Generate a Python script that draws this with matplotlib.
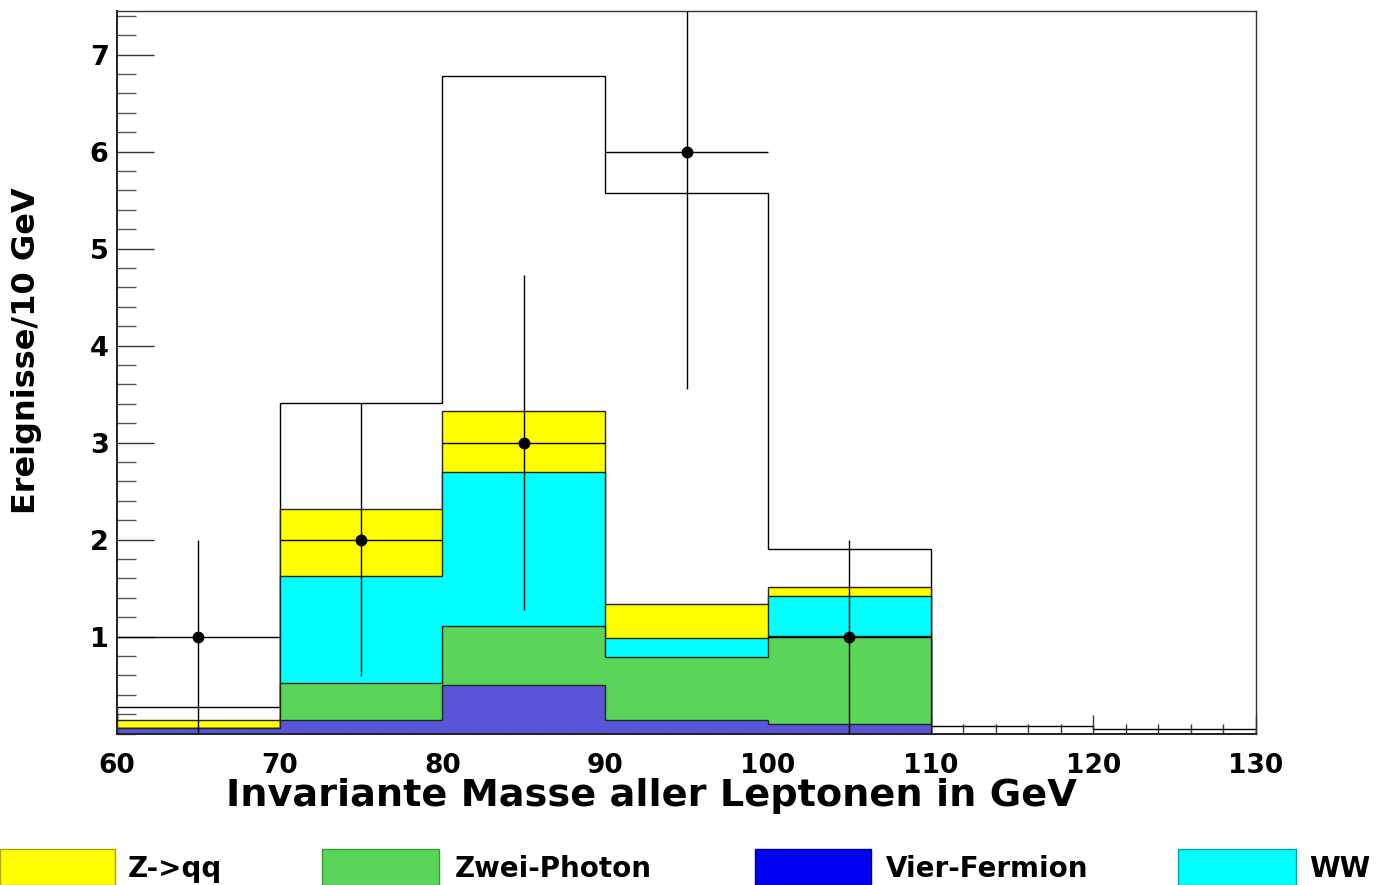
import numpy as np
import matplotlib
matplotlib.use("Agg")
import matplotlib.pyplot as plt
from matplotlib.patches import Rectangle
from matplotlib.ticker import MultipleLocator

plt.rcParams['font.family'] = ['DejaVu Sans']
plt.rcParams['font.weight'] = 'bold'

# bin edges in GeV
edges = [60, 70, 80, 90, 100, 110, 120, 130]

# background contributions per bin (stacked bottom -> top)
vier_fermion = [0.06, 0.14, 0.495, 0.137, 0.093, 0.0, 0.0]
zwei_photon = [0.0, 0.38, 0.61, 0.653, 0.91, 0.0, 0.0]
ww = [0.0, 1.10, 1.595, 0.197, 0.417, 0.0, 0.0]
z_qq = [0.08, 0.70, 0.63, 0.353, 0.09, 0.0, 0.0]

# total expectation (white outline histogram)
total = [0.27, 3.41, 6.78, 5.57, 1.90, 0.08, 0.05]

# data points
data_x = [65, 75, 85, 95, 105]
data_y = [1, 2, 3, 6, 1]
data_err = [1.0, 1.41, 1.73, 2.45, 1.0]

labels = ['Z->qq', 'Zwei-Photon', 'Vier-Fermion', 'WW']
plot_colors = {'Z->qq': '#ffff00', 'Zwei-Photon': '#59d559',
               'Vier-Fermion': '#5a55d8', 'WW': '#00ffff'}
legend_colors = {'Z->qq': '#ffff00', 'Zwei-Photon': '#59d559',
                 'Vier-Fermion': '#0000f5', 'WW': '#00ffff'}
legend_edges = {'Z->qq': '#a8a800', 'Zwei-Photon': '#3a9a3a',
                'Vier-Fermion': '#000090', 'WW': '#00a8a8'}

W, H = 1382, 885
fig = plt.figure(figsize=(W / 100, H / 100), dpi=100)
ax = fig.add_axes([117 / W, 1 - 733.5 / H, (1256 - 117) / W, (733.5 - 11) / H])

edge_col = '#222222'
ax.stairs(total, edges, baseline=0, fill=True, facecolor='white',
          edgecolor='black', linewidth=1.0, zorder=0.3)

# THStack style: draw cumulative sums from the largest down
layers = [('Vier-Fermion', vier_fermion), ('Zwei-Photon', zwei_photon),
          ('WW', ww), ('Z->qq', z_qq)]
cum = []
run = np.zeros(len(total))
for name, vals in layers:
    run = run + np.array(vals)
    cum.append((name, run.copy()))
for i, (name, vals) in enumerate(reversed(cum)):
    ax.stairs(vals, edges, baseline=0, fill=True, facecolor=plot_colors[name],
              edgecolor=edge_col, linewidth=1.0, zorder=1 + i * 0.01)

ax.errorbar(data_x, data_y, xerr=5, yerr=data_err, fmt='o', color='black',
            markersize=7.5, elinewidth=1.0, capsize=0, zorder=3)

ax.set_xlim(60, 130)
ax.set_ylim(0, 7.45)
ax.set_axisbelow(True)

ax.xaxis.set_major_locator(MultipleLocator(10))
ax.xaxis.set_minor_locator(MultipleLocator(2))
ax.yaxis.set_minor_locator(MultipleLocator(0.2))
ax.set_yticks([1, 2, 3, 4, 5, 6, 7])

ax.tick_params(axis='y', which='major', direction='in', length=26.5, width=1.0,
               labelsize=19.5, pad=6, right=False, color='#333333')
ax.tick_params(axis='y', which='minor', direction='in', length=13.5, width=1.0,
               right=False, color='#555555')
ax.tick_params(axis='x', which='major', direction='in', length=13.7, width=1.0,
               labelsize=19, pad=14, top=False, color='#333333')
ax.tick_params(axis='x', which='minor', direction='in', length=7.2, width=1.0,
               top=False, color='#333333')
for lab in ax.get_xticklabels() + ax.get_yticklabels():
    lab.set_fontweight('bold')

for side in ['left', 'bottom']:
    ax.spines[side].set_linewidth(1.4)
    ax.spines[side].set_color('#222222')
for side in ['top', 'right']:
    ax.spines[side].set_linewidth(1.0)
    ax.spines[side].set_color('#333333')

fig.text(651 / W, 1 - 806 / H, 'Invariante Masse aller Leptonen in GeV',
         fontsize=27.5, fontweight='bold', ha='center', va='baseline')
fig.text(27 / W, 1 - 351 / H, 'Ereignisse/10 GeV', fontsize=23,
         fontweight='bold', rotation=90, ha='center', va='center')

# legend row along the bottom
box_x = [(0, 115), (322, 439), (755, 871), (1178, 1296)]
text_x = [128, 455, 886, 1309]
for name, (x0, x1), tx in zip(labels, box_x, text_x):
    fig.add_artist(Rectangle((x0 / W, 1 - 884.5 / H), (x1 - x0) / W, 36 / H,
                             transform=fig.transFigure,
                             facecolor=legend_colors[name],
                             edgecolor=legend_edges[name], linewidth=1.0))
    fig.text(tx / W, 1 - 877 / H, name, fontsize=20, fontweight='bold',
             ha='left', va='baseline')

fig.savefig('out.png', dpi=100)
